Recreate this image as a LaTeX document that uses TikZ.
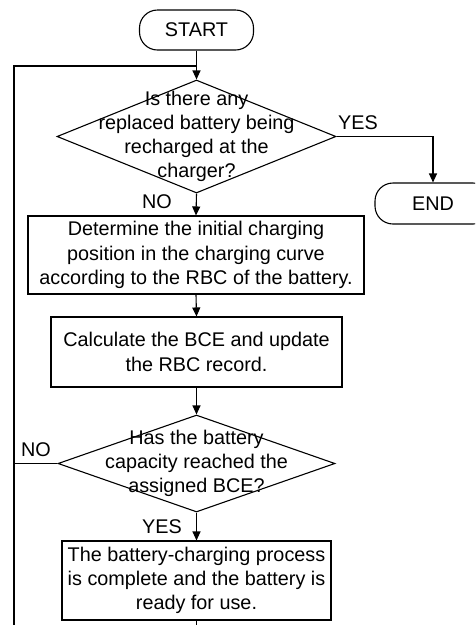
\documentclass[tikz,border=0pt]{standalone}
\usepackage{fontspec}
\setmainfont{Liberation Sans}
\usetikzlibrary{arrows.meta,shapes.geometric}

\tikzset{
  flow/.style={line width=1.1pt},
  arr/.style={flow, -{Triangle[length=9pt,width=8pt]}},
  txt/.style={font=\fontsize{19.8}{24.2}\selectfont, align=center, inner sep=0pt},
  procbox/.style={draw, flow, rectangle, txt, minimum width=#1},
  terminal/.style={draw, flow, rectangle, rounded corners=18pt, txt,
                   minimum width=114pt, minimum height=40pt},
  decision/.style={draw, flow, diamond, inner sep=0pt},
  lbl/.style={txt}
}

\begin{document}
\begin{tikzpicture}[x=1pt,y=-1pt]
  \useasboundingbox (0,0) rectangle (475,625);
  \clip (0,0) rectangle (475,625);

  % terminals
  \node[terminal] (start) at (196.5,30) {START};
  \node[terminal, minimum width=116pt, minimum height=41pt] (end) at (433,203.5) {END};

  % first decision
  \node[decision, minimum width=279pt, minimum height=113pt] (d1) at (196.5,136.5) {};
  \node[txt] (d1t) at (d1) {Is there any\\replaced battery being\\recharged at the\\charger?};

  % processing steps
  \node[procbox=336pt, minimum height=78pt] (p1) at (196,255)
    {Determine the initial charging\\position in the charging curve\\according to the RBC of the battery.};
  \node[procbox=291pt, minimum height=70pt] (p2) at (196.5,352)
    {Calculate the BCE and update\\the RBC record.};

  % second decision
  \node[decision, minimum width=277pt, minimum height=97pt] (d2) at (196.5,463.5) {};
  \node[txt] (d2t) at (d2) {Has the battery\\capacity reached the\\assigned BCE?};

  \node[procbox=269pt, minimum height=79pt] (p3) at (196.5,580.5)
    {The battery-charging process\\is complete and the battery is\\ready for use.};

  % loop route
  \coordinate (join) at (196.5,66);
  \coordinate (lt) at (14,66);
  \coordinate (lb) at (14,640);
  \coordinate (bb) at (196.5,640);

  % connectors
  \draw[flow] (start.south) -- (join);
  \draw[arr] (join) -- (d1.north);
  \draw[arr] (d1.east) -| (end.north);
  \draw[arr] (d1.south) -- (p1.north);
  \draw[arr] (p1.south) -- (p2.north);
  \draw[arr] (p2.south) -- (d2.north);
  \draw[arr] (d2.south) -- (p3.north);
  \draw[flow] (d2.west) -- (d2.west -| lt);
  \draw[flow] (p3.south) -- (bb) -- (lb) -- (lt) -- (join);

  % branch labels
  \node[lbl] (yes1) at (358,123) {YES};
  \node[lbl] (no1) at (157,202) {NO};
  \node[lbl] (no2) at (36,450) {NO};
  \node[lbl] (yes2) at (162,527) {YES};
\end{tikzpicture}
\end{document}
